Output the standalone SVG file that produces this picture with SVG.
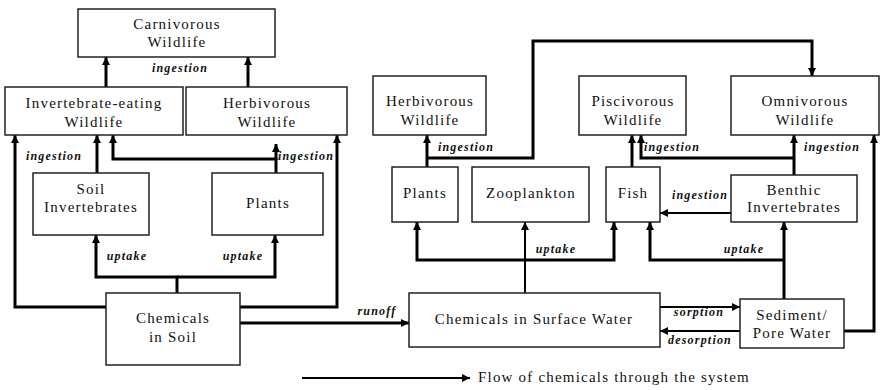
<svg xmlns="http://www.w3.org/2000/svg" width="881" height="390" viewBox="0 0 881 390">
<style>
.box{fill:#fff;stroke:#222;stroke-width:1.5}
.t{font-family:"Liberation Serif","Times New Roman",serif;font-size:15px;letter-spacing:1.2px;fill:#111;text-anchor:middle}
.l{font-family:"Liberation Serif","Times New Roman",serif;font-size:12px;font-style:italic;font-weight:bold;letter-spacing:1.2px;fill:#111;text-anchor:middle}
.c{fill:none;stroke:#000;stroke-width:3;marker-end:url(#ah)}
.n{fill:none;stroke:#000;stroke-width:3}
.thin{fill:none;stroke:#000;stroke-width:2;marker-end:url(#ah)}
</style>
<defs>
<marker id="ah" markerUnits="userSpaceOnUse" markerWidth="9" markerHeight="9" refX="8" refY="4" orient="auto" viewBox="0 0 9 9">
<path d="M0,0 L8,4 L0,8 z" fill="#000"/>
</marker>
</defs>
<g id="connectors">
<path class="c" d="M106,87 V57"/>
<path class="c" d="M248,87 V57"/>
<path class="c" d="M97,173 V135"/>
<path class="c" d="M276,173 V159 H113 V135"/>
<path class="c" d="M276,160 V144"/>
<path class="c" d="M177,293 V277 H96 V235"/>
<path class="c" d="M177,277 H275 V235"/>
<path class="c" d="M106,307 H15 V135"/>
<path class="c" d="M240,307 H337 V135"/>
<path class="c" d="M240,323 H409"/>
<path class="c" d="M427,167 V135"/>
<path class="c" d="M427,158 H533 V41 H812 V76"/>
<path class="c" d="M632,167 V135"/>
<path class="c" d="M794,175 V135"/>
<path class="c" d="M794,158 H641 V135"/>
<path class="thin" d="M731,213 H660"/>
<path class="thin" d="M525,293 V222"/>
<path class="c" d="M525,260 H417 V222"/>
<path class="c" d="M525,260 H614 V222"/>
<path class="c" d="M784,299 V222"/>
<path class="c" d="M784,260 H650 V222"/>
<path class="thin" d="M660,307 H740"/>
<path class="thin" d="M740,331 H660"/>
<path class="c" d="M844,331 H874 V135"/>
<path class="thin" d="M302,378 H470"/>
</g>
<g id="labels">
<text class="l" x="180" y="72">ingestion</text>
<text class="l" x="54" y="160">ingestion</text>
<text class="l" x="306" y="160">ingestion</text>
<text class="l" x="127" y="260">uptake</text>
<text class="l" x="243" y="260">uptake</text>
<text class="l" x="377" y="315">runoff</text>
<text class="l" x="466" y="151">ingestion</text>
<text class="l" x="672" y="151">ingestion</text>
<text class="l" x="832" y="151">ingestion</text>
<text class="l" x="700" y="199">ingestion</text>
<text class="l" x="556" y="253">uptake</text>
<text class="l" x="744" y="253">uptake</text>
<text class="l" x="699" y="316">sorption</text>
<text class="l" x="700" y="344">desorption</text>
</g>
<g id="carnivorous"><rect class="box" x="78" y="9" width="197" height="48"/><text class="t" x="177" y="29">Carnivorous</text><text class="t" x="177" y="47">Wildlife</text></g>
<g id="invert-eating"><rect class="box" x="5" y="87" width="178" height="48"/><text class="t" x="94" y="108">Invertebrate-eating</text><text class="t" x="94" y="127">Wildlife</text></g>
<g id="herbivorous-left"><rect class="box" x="186" y="87" width="161" height="48"/><text class="t" x="267" y="108">Herbivorous</text><text class="t" x="267" y="127">Wildlife</text></g>
<g id="soil-invertebrates"><rect class="box" x="33" y="173" width="116" height="62"/><text class="t" x="91" y="194">Soil</text><text class="t" x="91" y="212">Invertebrates</text></g>
<g id="plants-left"><rect class="box" x="212" y="173" width="111" height="62"/><text class="t" x="268" y="208">Plants</text></g>
<g id="chemicals-soil"><rect class="box" x="106" y="293" width="134" height="72"/><text class="t" x="173" y="323">Chemicals</text><text class="t" x="173" y="342">in Soil</text></g>
<g id="herbivorous-right"><rect class="box" x="373" y="76" width="113" height="59"/><text class="t" x="430" y="106">Herbivorous</text><text class="t" x="430" y="125">Wildlife</text></g>
<g id="piscivorous"><rect class="box" x="579" y="76" width="107" height="59"/><text class="t" x="633" y="106">Piscivorous</text><text class="t" x="633" y="125">Wildlife</text></g>
<g id="omnivorous"><rect class="box" x="731" y="76" width="148" height="59"/><text class="t" x="805" y="106">Omnivorous</text><text class="t" x="805" y="125">Wildlife</text></g>
<g id="plants-right"><rect class="box" x="392" y="167" width="66" height="55"/><text class="t" x="425" y="198">Plants</text></g>
<g id="zooplankton"><rect class="box" x="472" y="167" width="117" height="55"/><text class="t" x="531" y="198">Zooplankton</text></g>
<g id="fish"><rect class="box" x="606" y="167" width="54" height="55"/><text class="t" x="633" y="198">Fish</text></g>
<g id="benthic"><rect class="box" x="731" y="175" width="126" height="47"/><text class="t" x="794" y="195">Benthic</text><text class="t" x="794" y="212">Invertebrates</text></g>
<g id="surface-water"><rect class="box" x="409" y="293" width="251" height="54"/><text class="t" x="534" y="324">Chemicals in Surface Water</text></g>
<g id="sediment"><rect class="box" x="740" y="299" width="104" height="49"/><text class="t" x="792" y="320">Sediment/</text><text class="t" x="792" y="338">Pore Water</text></g>
<g id="legend"><text class="t" x="478" y="382" style="text-anchor:start">Flow of chemicals through the system</text></g>
</svg>
